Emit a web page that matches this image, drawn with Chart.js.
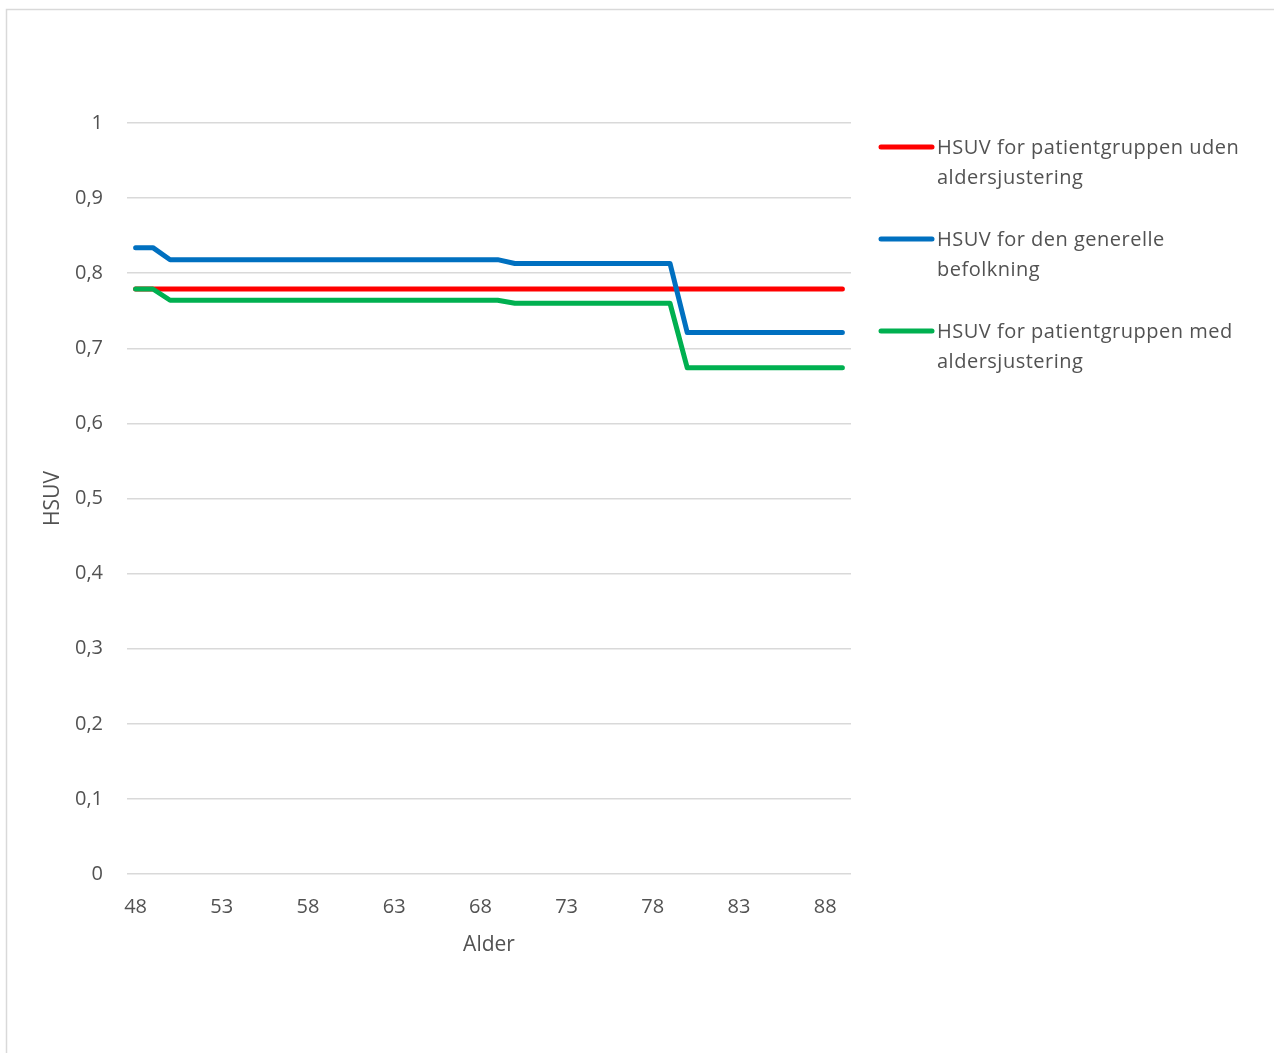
<!DOCTYPE html>
<html>
<head>
<meta charset="utf-8">
<script src="https://cdn.jsdelivr.net/npm/chart.js@4"></script>
<style>
  html, body { margin: 0; padding: 0; background: #fff; }
  #wrap { width: 1274px; height: 1053px; }
</style>
</head>
<body>
<div id="wrap"><canvas id="hsuv-chart"></canvas></div>
<script>
// Ages 48..89
const ages = [48, 49, 50, 51, 52, 53, 54, 55, 56, 57, 58, 59, 60, 61, 62, 63, 64, 65, 66, 67, 68, 69,
  70, 71, 72, 73, 74, 75, 76, 77, 78, 79, 80, 81, 82, 83, 84, 85, 86, 87, 88, 89];

const utenJustering = [0.779, 0.779, 0.779, 0.779, 0.779, 0.779, 0.779, 0.779, 0.779, 0.779, 0.779, 0.779, 0.779, 0.779,
  0.779, 0.779, 0.779, 0.779, 0.779, 0.779, 0.779, 0.779, 0.779, 0.779, 0.779, 0.779, 0.779, 0.779,
  0.779, 0.779, 0.779, 0.779, 0.779, 0.779, 0.779, 0.779, 0.779, 0.779, 0.779, 0.779, 0.779, 0.779];

const generelBefolkning = [0.834, 0.834, 0.818, 0.818, 0.818, 0.818, 0.818, 0.818, 0.818, 0.818, 0.818, 0.818, 0.818, 0.818,
  0.818, 0.818, 0.818, 0.818, 0.818, 0.818, 0.818, 0.818, 0.813, 0.813, 0.813, 0.813, 0.813, 0.813,
  0.813, 0.813, 0.813, 0.813, 0.721, 0.721, 0.721, 0.721, 0.721, 0.721, 0.721, 0.721, 0.721, 0.721];

const medJustering = [0.779, 0.779, 0.764, 0.764, 0.764, 0.764, 0.764, 0.764, 0.764, 0.764, 0.764, 0.764, 0.764, 0.764,
  0.764, 0.764, 0.764, 0.764, 0.764, 0.764, 0.764, 0.764, 0.760, 0.760, 0.760, 0.760, 0.760, 0.760,
  0.760, 0.760, 0.760, 0.760, 0.674, 0.674, 0.674, 0.674, 0.674, 0.674, 0.674, 0.674, 0.674, 0.674];

const seriesNames = [
  ['HSUV for patientgruppen uden', 'aldersjustering'],
  ['HSUV for den generelle', 'befolkning'],
  ['HSUV for patientgruppen med', 'aldersjustering']
];
const seriesColors = ['#FF0000', '#0070C0', '#00B050'];

const FONT = '"Open Sans", Lato, sans-serif';
const TEXT = '#525252';

// frame + legend drawn by hand (legend wraps text like the original)
const framePlugin = {
  id: 'frame',
  beforeDraw(chart) {
    const c = chart.ctx;
    c.save();
    c.strokeStyle = '#D9D9D9';
    c.lineWidth = 1.5;
    c.strokeRect(6.5, 9.5, 1400, 1200);
    c.restore();
  }
};

const sideLegend = {
  id: 'sideLegend',
  afterDraw(chart) {
    const c = chart.ctx;
    c.save();
    chart.data.datasets.forEach((ds, i) => {
      const y = 147 + i * 92;
      c.strokeStyle = ds.borderColor;
      c.lineWidth = 5;
      c.lineCap = 'round';
      c.beginPath();
      c.moveTo(881, y);
      c.lineTo(932, y);
      c.stroke();
      c.fillStyle = TEXT;
      c.font = '20px ' + FONT;
      c.letterSpacing = '0.5px';
      c.textBaseline = 'middle';
      c.textAlign = 'left';
      seriesNames[i].forEach((line, j) => c.fillText(line, 937, y + 1 + j * 30));
    });
    c.restore();
  }
};

const ctx = document.getElementById('hsuv-chart').getContext('2d');
const hsuvChart = new Chart(ctx, {
  type: 'line',
  data: {
    labels: ages,
    datasets: [
      { label: seriesNames[0].join(' '), data: utenJustering, borderColor: seriesColors[0], order: 3 },
      { label: seriesNames[1].join(' '), data: generelBefolkning, borderColor: seriesColors[1], order: 2 },
      { label: seriesNames[2].join(' '), data: medJustering, borderColor: seriesColors[2], order: 1 }
    ]
  },
  options: {
    responsive: true,
    maintainAspectRatio: false,
    animation: false,
    devicePixelRatio: 1,
    layout: { padding: { top: 123, right: 423, left: 0, bottom: 0 } },
    elements: {
      line: { borderWidth: 5, tension: 0, borderCapStyle: 'round', borderJoinStyle: 'round' },
      point: { radius: 0 }
    },
    plugins: {
      legend: { display: false },
      tooltip: { enabled: false }
    },
    scales: {
      x: {
        offset: true,
        grid: { display: false },
        border: { display: false },
        ticks: {
          autoSkip: false,
          maxRotation: 0,
          padding: 13,
          color: TEXT,
          font: { family: FONT, size: 20 },
          callback: function (val, idx) { return idx % 5 === 0 ? this.getLabelForValue(val) : ''; }
        },
        title: {
          display: true, text: 'Alder', color: TEXT,
          font: { family: FONT, size: 21 }, padding: { top: 10, bottom: 95 }
        },
        afterFit(scale) { scale.height = 179; }
      },
      y: {
        min: 0,
        max: 1,
        grid: { color: '#D9D9D9', lineWidth: 1.5, drawTicks: false },
        border: { display: false },
        ticks: {
          stepSize: 0.1,
          padding: 24,
          color: TEXT,
          font: { family: FONT, size: 20 },
          callback: v => String(Math.round(v * 10) / 10).replace('.', ',')
        },
        title: {
          display: true, text: 'HSUV', color: TEXT,
          font: { family: FONT, size: 21 }, padding: { top: 40 }
        },
        afterFit(scale) { scale.width = 127; }
      }
    }
  },
  plugins: [framePlugin, sideLegend]
});
</script>
</body>
</html>
